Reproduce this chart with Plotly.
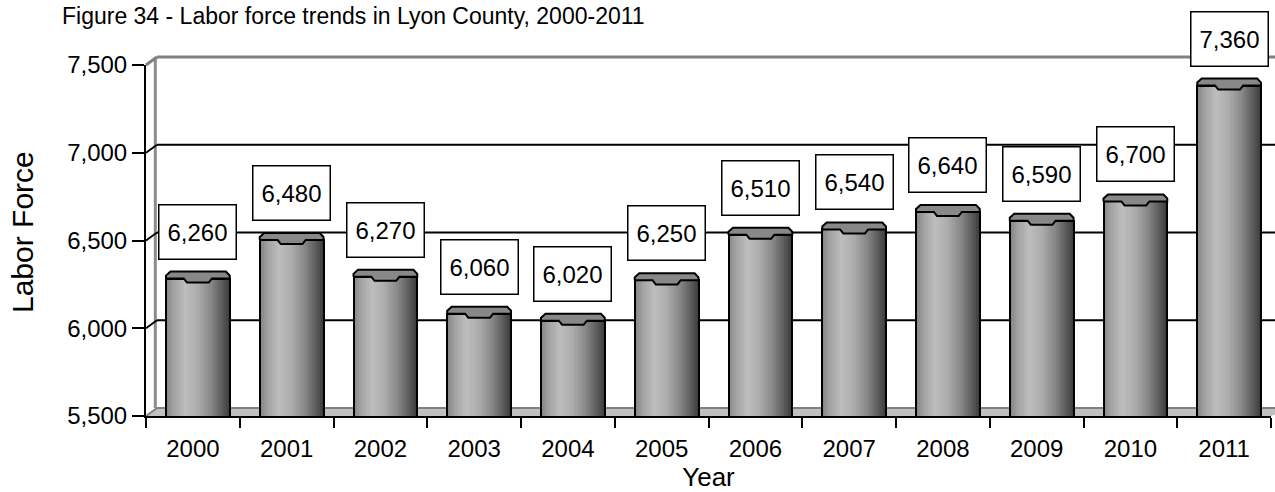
import numpy as np
import plotly.graph_objects as go

# ---- data -------------------------------------------------------------
years = ["2000", "2001", "2002", "2003", "2004", "2005",
         "2006", "2007", "2008", "2009", "2010", "2011"]
labor_force = [6260, 6480, 6270, 6060, 6020, 6250,
               6510, 6540, 6640, 6590, 6700, 7360]
y_ticks = [5500, 6000, 6500, 7000, 7500]

# ---- geometry ---------------------------------------------------------
W, H = 1275, 492
M_L, M_R, M_T, M_B = 146, 4, 65, 76
PLOT_W = W - M_L - M_R
PLOT_H = H - M_T - M_B
Y_MIN, Y_MAX = 5500, 7500
U_PER_PX = (Y_MAX - Y_MIN) / PLOT_H
CAT_PX = PLOT_W / len(years)

BACK_DX, BACK_DY = 11, 8      # back wall depth offset (px)
MID_DX, MID_DY = 5, 4         # mid-depth plane where the columns stand
BAR_W = 0.68
BAR_SHIFT = MID_DX / CAT_PX

FONT = "Arial, Liberation Sans, sans-serif"
x_idx = list(range(len(years)))


def paper_x(px):
    return px / PLOT_W


def paper_y(v, dy_px=0.0):
    return (v - Y_MIN) / (Y_MAX - Y_MIN) + dy_px / PLOT_H


fig = go.Figure()

# ---- cylinder bodies: vertical strips giving a shaded, rounded look ---
shade_pos = [0.0, 0.12, 0.30, 0.50, 0.70, 0.86, 1.0]
shade_lev = [132, 162, 190, 172, 136, 96, 58]
N_STRIPS = 32
for j in range(N_STRIPS):
    u = (j + 0.5) / N_STRIPS
    g = int(np.interp(u, shade_pos, shade_lev))
    fig.add_trace(go.Bar(
        x=x_idx, y=labor_force, yaxis="y2",
        offset=BAR_SHIFT - BAR_W / 2 + j * BAR_W / N_STRIPS,
        width=BAR_W / N_STRIPS * 1.06,
        marker=dict(color=f"rgb({g},{g},{g})", line=dict(width=0)),
        hoverinfo="skip", showlegend=False,
    ))

# outline of each column
fig.add_trace(go.Bar(
    x=x_idx, y=labor_force, yaxis="y2",
    offset=BAR_SHIFT - BAR_W / 2, width=BAR_W,
    marker=dict(color="rgba(0,0,0,0)", line=dict(color="black", width=2)),
    hoverinfo="skip", showlegend=False,
))

# ---- column caps --------------------------------------------------------
cap_shape = [(0, 0), (0, 3), (0.07, 7), (0.94, 7), (1, 3), (1, 0),
             (0.72, 0), (0.67, -4), (0.33, -4), (0.28, 0), (0, 0)]
cap_x, cap_y = [], []
for i, v in zip(x_idx, labor_force):
    for u, dy in cap_shape:
        cap_x.append(i + BAR_SHIFT + (u - 0.5) * BAR_W)
        cap_y.append(v + dy * U_PER_PX)
    cap_x.append(None)
    cap_y.append(None)
fig.add_trace(go.Scatter(
    x=cap_x, y=cap_y, yaxis="y2", mode="lines", fill="toself",
    fillcolor="#888888", line=dict(color="black", width=2),
    hoverinfo="skip", showlegend=False,
))

# ---- value labels ---------------------------------------------------------
for i, v in zip(x_idx, labor_force):
    fig.add_annotation(
        x=i + BAR_SHIFT, y=v, xref="x", yref="y", yshift=51,
        text=f"{v:,}", showarrow=False,
        font=dict(family=FONT, size=24, color="black"),
        bgcolor="white", bordercolor="black", borderwidth=1.5,
        width=72, height=49, borderpad=2,
    )

# y-axis title, centred on the back wall
fig.add_annotation(
    x=paper_x(22 - M_L), y=(416 - 232) / PLOT_H, xref="paper", yref="paper",
    text="Labor Force", textangle=-90, showarrow=False,
    xanchor="center", yanchor="middle",
    font=dict(family=FONT, size=30, color="black"),
)

# ---- 3-D frame: floor, back wall, gridlines -----------------------------
shapes = []
x_back = paper_x(BACK_DX)
floor_front = paper_y(Y_MIN)
floor_back = paper_y(Y_MIN, BACK_DY)
shapes.append(dict(
    type="path", xref="paper", yref="paper", layer="below",
    path=(f"M 0,{floor_front} L {x_back},{floor_back} "
          f"L 1.02,{floor_back} L 1.0,{floor_front} Z"),
    fillcolor="#c0c0c0", line=dict(width=0),
))
shapes.append(dict(type="line", xref="paper", yref="paper", layer="below",
                   x0=x_back, x1=1.02, y0=floor_back, y1=floor_back,
                   line=dict(color="#808080", width=2)))
shapes.append(dict(type="line", xref="paper", yref="paper", layer="below",
                   x0=0, x1=x_back, y0=floor_front, y1=floor_back,
                   line=dict(color="#808080", width=2)))
# left wall back edge
shapes.append(dict(type="line", xref="paper", yref="paper", layer="below",
                   x0=x_back - 0.0015, x1=x_back - 0.0015,
                   y0=floor_back, y1=paper_y(Y_MAX, BACK_DY),
                   line=dict(color="#8c8c8c", width=3)))
for v in y_ticks[1:]:
    col = "#808080" if v == Y_MAX else "black"
    wid = 3 if v == Y_MAX else 2
    yb = paper_y(v, BACK_DY)
    shapes.append(dict(type="line", xref="paper", yref="paper", layer="below",
                       x0=x_back, x1=1.02, y0=yb, y1=yb,
                       line=dict(color=col, width=wid)))
    shapes.append(dict(type="line", xref="paper", yref="paper", layer="below",
                       x0=0, x1=x_back, y0=paper_y(v), y1=yb,
                       line=dict(color=col, width=wid)))

fig.update_layout(
    width=W, height=H,
    margin=dict(l=M_L, r=M_R, t=M_T, b=M_B, pad=0),
    paper_bgcolor="white", plot_bgcolor="white",
    barmode="overlay", bargap=0, showlegend=False,
    shapes=shapes,
    font=dict(family=FONT, color="black"),
    title=dict(
        text="Figure 34 - Labor force trends in Lyon County, 2000-2011",
        x=62 / W, xref="container", xanchor="left",
        y=1 - 16 / H, yref="container", yanchor="middle",
        font=dict(family=FONT, size=23, color="black"),
    ),
    xaxis=dict(
        range=[-0.5, len(years) - 0.5],
        tickmode="array", tickvals=x_idx, ticktext=years,
        ticks="outside", ticklen=10, tickcolor="rgba(0,0,0,0)",
        minor=dict(tickmode="array",
                   tickvals=[i - 0.5 for i in range(len(years) + 1)],
                   ticks="outside", ticklen=10, tickwidth=2,
                   tickcolor="black"),
        showline=True, linecolor="black", linewidth=2,
        showgrid=False, zeroline=False,
        tickfont=dict(family=FONT, size=24, color="black"),
        title=dict(text="Year", standoff=5,
                   font=dict(family=FONT, size=26, color="black")),
    ),
    yaxis=dict(
        range=[Y_MIN, Y_MAX], tickmode="array", tickvals=y_ticks,
        tickformat=",", ticks="outside", ticklen=12, tickwidth=2,
        tickcolor="black", showline=True, linecolor="black", linewidth=2,
        showgrid=False, zeroline=False,
        tickfont=dict(family=FONT, size=24, color="black"),
    ),
    yaxis2=dict(
        overlaying="y", visible=False,
        range=[Y_MIN - MID_DY * U_PER_PX, Y_MAX - MID_DY * U_PER_PX],
    ),
)

fig.write_html("out.html")
